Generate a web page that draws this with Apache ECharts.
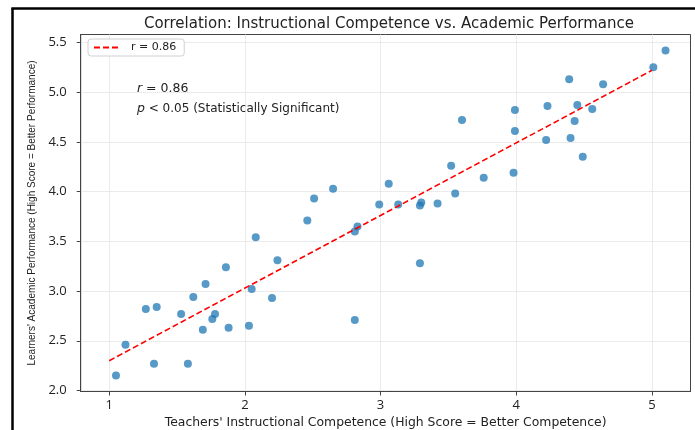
<!DOCTYPE html>
<html>
<head>
<meta charset="utf-8">
<script src="https://cdn.jsdelivr.net/npm/echarts@6/dist/echarts.min.js"></script>
<style>
  html, body { margin: 0; padding: 0; background: #fff; }
  #chart { width: 695px; height: 430px; }
</style>
</head>
<body>
<div id="chart"></div>
<script>
// teacher competence (x) and learner performance (y)
const teacherScores = [
  1.05, 1.12, 1.27, 1.35, 1.33, 1.53, 1.58, 1.62, 1.71, 1.69,
  1.76, 1.78, 1.86, 1.88, 2.03, 2.05, 2.08, 2.20, 2.24, 2.46,
  2.51, 2.65, 2.81, 2.83, 2.81, 2.99, 3.06, 3.13, 3.29, 3.30,
  3.29, 3.42, 3.52, 3.55, 3.60, 3.76, 3.98, 3.99, 3.99, 4.23,
  4.22, 4.39, 4.40, 4.43, 4.45, 4.49, 4.56, 4.64, 5.01, 5.10
]
const learnerScores = [
  2.15, 2.46, 2.82, 2.84, 2.27, 2.77, 2.27, 2.94, 3.07, 2.61,
  2.72, 2.77, 3.24, 2.63, 2.65, 3.02, 3.54, 2.93, 3.31, 3.71,
  3.93, 4.03, 3.60, 3.65, 2.71, 3.87, 4.08, 3.87, 3.86, 3.89,
  3.28, 3.88, 4.26, 3.98, 4.72, 4.14, 4.19, 4.82, 4.61, 4.86,
  4.52, 5.13, 4.54, 4.71, 4.87, 4.35, 4.83, 5.08, 5.25, 5.42
]
// fitted regression line end points
const fitX = [1.0, 5.0]
const fitY = [2.30, 5.22]
const xTicks = [1, 2, 3, 4, 5]
const yTicks = [2.0, 2.5, 3.0, 3.5, 4.0, 4.5, 5.0, 5.5]
const corrLabel = 'r = 0.86'

const font = 'Open Sans'
const wide = 'DejaVu Sans'
const chart = echarts.init(document.getElementById('chart'))

const option = {
  animation: false,
  title: {
    text: 'Correlation: Instructional Competence vs. Academic Performance',
    left: 384,
    top: 12,
    textAlign: 'center',
    textStyle: { fontFamily: wide, fontSize: 15, fontWeight: 'normal', color: '#222' }
  },
  legend: {
    data: [corrLabel],
    left: 88,
    top: 39,
    padding: [3, 8, 3, 5],
    itemWidth: 27,
    itemHeight: 8,
    itemGap: 8,
    backgroundColor: '#fff',
    borderColor: '#d0d0d0',
    borderWidth: 1,
    borderRadius: 3,
    itemStyle: { opacity: 0 },
    textStyle: { fontFamily: wide, fontSize: 11, color: '#222', padding: [0, 0, 0, 5] }
  },
  grid: {
    left: 80.7,
    right: 4.5,
    top: 34.5,
    bottom: 38.5,
    outerBoundsMode: 'none',
    show: true,
    borderColor: '#444',
    borderWidth: 1
  },
  xAxis: {
    type: 'value',
    min: 0.79,
    max: 5.284,
    name: "Teachers' Instructional Competence (High Score = Better Competence)",
    nameLocation: 'middle',
    nameGap: 19,
    nameTextStyle: { fontFamily: wide, fontSize: 12.4, color: '#222' },
    axisLine: { show: true, lineStyle: { color: '#444', width: 1 } },
    axisTick: { show: true, length: 4, customValues: xTicks, lineStyle: { color: '#444' } },
    axisLabel: { customValues: xTicks, margin: 7, fontFamily: font, fontSize: 13, color: '#222' },
    splitLine: { show: true, lineStyle: { color: '#d8d8d8', type: 'dotted', width: 1 } }
  },
  yAxis: {
    type: 'value',
    min: 1.99,
    max: 5.58,
    name: "Learners' Academic Performance (High Score = Better Performance)",
    nameLocation: 'middle',
    nameGap: 41,
    nameTextStyle: { fontFamily: 'Liberation Sans', fontSize: 10, color: '#222' },
    axisLine: { show: true, lineStyle: { color: '#444', width: 1 } },
    axisTick: { show: true, length: 4, customValues: yTicks, lineStyle: { color: '#444' } },
    axisLabel: {
      customValues: yTicks,
      margin: 14,
      fontFamily: font,
      fontSize: 13,
      color: '#222',
      formatter: v => v.toFixed(1)
    },
    splitLine: { show: true, lineStyle: { color: '#d8d8d8', type: 'dotted', width: 1 } }
  },
  series: [
    {
      name: 'scores',
      type: 'scatter',
      data: teacherScores.map((x, i) => [x, learnerScores[i]]),
      symbolSize: 8,
      itemStyle: { color: '#1f77b4', opacity: 0.75 }
    },
    {
      name: corrLabel,
      type: 'line',
      data: fitX.map((x, i) => [x, fitY[i]]),
      symbol: 'none',
      lineStyle: { color: '#ff0000', width: 1.6, type: [6, 3] },
      itemStyle: { color: '#ff0000' },
      z: 3
    }
  ],
  graphic: [
    // page frame
    { type: 'line', shape: { x1: 12.5, y1: 8.5, x2: 12.5, y2: 430 }, style: { stroke: '#000', lineWidth: 2.5 } },
    { type: 'line', shape: { x1: 11.3, y1: 8.5, x2: 695, y2: 8.5 }, style: { stroke: '#000', lineWidth: 2.5 } },
    {
      type: 'text',
      left: 137,
      top: 82,
      style: {
        text: '{i|r} = 0.86',
        rich: { i: { fontStyle: 'italic', fontFamily: wide, fontSize: 12.5 } },
        font: '12.5px "DejaVu Sans"',
        fill: '#222'
      }
    },
    {
      type: 'text',
      left: 137,
      top: 102,
      style: {
        text: '{i|p} < 0.05 (Statistically Significant)',
        rich: { i: { fontStyle: 'italic', fontFamily: wide, fontSize: 12.5 } },
        font: '12px "DejaVu Sans"',
        fill: '#222'
      }
    }
  ]
}

chart.setOption(option)
</script>
</body>
</html>
